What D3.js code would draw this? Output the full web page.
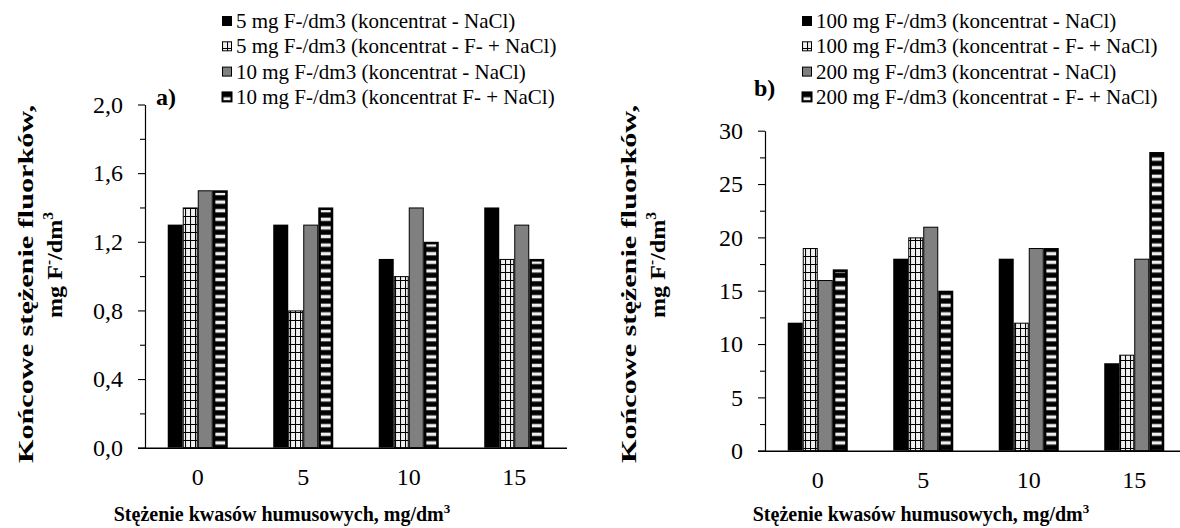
<!DOCTYPE html>
<html>
<head>
<meta charset="utf-8">
<script src="https://cdn.jsdelivr.net/npm/d3@7"></script>
<style>
html,body{margin:0;padding:0;background:#fff;}
svg{display:block;}
text{font-family:"Liberation Serif","Times New Roman",serif;fill:#000;}
</style>
</head>
<body>
<svg id="chart" width="1180" height="528"></svg>
<script>
// ---------- DATA ----------
const categories = ["0", "5", "10", "15"];

const seriesNamesA = [
  "5 mg F-/dm3 (koncentrat - NaCl)",
  "5 mg F-/dm3 (koncentrat - F- + NaCl)",
  "10 mg F-/dm3 (koncentrat - NaCl)",
  "10 mg F-/dm3 (koncentrat F- + NaCl)"
];
const a5NaCl   = [1.3, 1.3, 1.1, 1.4];
const a5FNaCl  = [1.4, 0.8, 1.0, 1.1];
const a10NaCl  = [1.5, 1.3, 1.4, 1.3];
const a10FNaCl = [1.5, 1.4, 1.2, 1.1];

const seriesNamesB = [
  "100 mg F-/dm3 (koncentrat - NaCl)",
  "100 mg F-/dm3 (koncentrat - F- + NaCl)",
  "200 mg F-/dm3 (koncentrat - NaCl)",
  "200 mg F-/dm3 (koncentrat - F- + NaCl)"
];
const b100NaCl  = [12, 18, 18, 8.2];
const b100FNaCl = [19, 20, 12, 9];
const b200NaCl  = [16, 21, 19, 18];
const b200FNaCl = [17, 15, 19, 28];

const yTicksA = [0, 0.4, 0.8, 1.2, 1.6, 2.0];
const yTickLabelsA = ["0,0", "0,4", "0,8", "1,2", "1,6", "2,0"];
const yMinorA = [0.2, 0.6, 1.0, 1.4, 1.8];
const yTicksB = [0, 5, 10, 15, 20, 25, 30];
const yTickLabelsB = ["0", "5", "10", "15", "20", "25", "30"];
const yMinorB = [2.5, 7.5, 12.5, 17.5, 22.5, 27.5];

const xTitle = "Stężenie kwasów humusowych, mg/dm";
const yTitle1 = "Końcowe stężenie fluorków,";

// ---------- DRAW ----------
const svg = d3.select("#chart");
const defs = svg.append("defs");

// checkered pattern
const chk = defs.append("pattern").attr("id", "chk")
  .attr("patternUnits", "userSpaceOnUse").attr("width", 5).attr("height", 8);
chk.append("rect").attr("width", 5).attr("height", 8).attr("fill", "#f0f0f0");
chk.append("path").attr("d", "M0.5,0V8M0,0.5H5").attr("stroke", "#000").attr("stroke-width", 1.1);

// horizontal stripe pattern
const str = defs.append("pattern").attr("id", "str")
  .attr("patternUnits", "userSpaceOnUse").attr("width", 10).attr("height", 8.6);
str.append("rect").attr("width", 10).attr("height", 8.6).attr("fill", "#000");
str.append("rect").attr("y", 2.6).attr("width", 10).attr("height", 3.4).attr("fill", "#efefef");

const fills = ["#000", "url(#chk)", "#808080", "url(#str)"];
const strokes = [0, 1, 1, 2.6];

function drawPanel(opt) {
  const g = svg.append("g");
  const x = d3.scaleBand().domain(categories).range(opt.xRange)
    .paddingInner(0.431).paddingOuter(0.2155);
  const xs = d3.scaleBand().domain(d3.range(opt.series.length)).range([0, x.bandwidth()]);
  const y = d3.scaleLinear().domain(opt.yDomain).range(opt.yRange);

  // bars
  opt.series.forEach((vals, si) => {
    g.append("g").selectAll("rect").data(vals).join("rect")
      .attr("x", (d, i) => x(categories[i]) + xs(si) + strokes[si] / 2)
      .attr("width", xs.bandwidth() - strokes[si])
      .attr("y", d => y(d) + strokes[si] / 2)
      .attr("height", d => Math.max(0, y(0) - y(d) - strokes[si] / 2))
      .attr("fill", fills[si])
      .attr("stroke", strokes[si] ? "#000" : "none")
      .attr("stroke-width", strokes[si]);
  });

  // y axis
  const yAxis = d3.axisLeft(y).tickValues(opt.yTicks).tickSize(7).tickSizeOuter(0)
    .tickPadding(15).tickFormat((d, i) => opt.yTickLabels[i]);
  const ya = g.append("g").attr("transform", `translate(${opt.xRange[0]},0)`).call(yAxis);
  ya.select(".domain").attr("stroke", "#000").attr("stroke-width", 1.2);
  ya.selectAll(".tick line").attr("stroke", "#000").attr("stroke-width", 1.1);
  ya.selectAll(".tick text").style("font-family", '"Liberation Serif", serif')
    .style("font-size", "24px").attr("fill", "#000");
  const yMinor = d3.axisLeft(y).tickValues(opt.yMinor).tickSize(5).tickSizeOuter(0).tickFormat("");
  const ym = g.append("g").attr("transform", `translate(${opt.xRange[0]},0)`).call(yMinor);
  ym.select(".domain").remove();
  ym.selectAll(".tick line").attr("stroke", "#000").attr("stroke-width", 1.1);

  // x axis
  const xAxis = d3.axisBottom(x).tickSize(0).tickSizeOuter(0).tickPadding(20);
  const xa = g.append("g").attr("transform", `translate(0,${y(0)})`).call(xAxis);
  xa.select(".domain").attr("stroke", "#000").attr("stroke-width", 1.4)
    .attr("d", `M${opt.xRange[0] - 7},0.5H${opt.xRange[1]}`);
  xa.selectAll(".tick text").style("font-family", '"Liberation Serif", serif')
    .style("font-size", "24px").attr("fill", "#000");

  // x title
  const xt = g.append("text").attr("x", opt.xTitleX).attr("y", 521)
    .attr("text-anchor", "middle").style("font-size", "20px").style("font-weight", "bold");
  xt.append("tspan").text(xTitle);
  xt.append("tspan").attr("dy", -8).style("font-size", "13px").text("3");

  // y title (two lines, rotated)
  const yt = g.append("g").attr("transform", `translate(${opt.yTitleX},0) rotate(-90)`);
  yt.append("text").attr("text-anchor", "middle").attr("x", -284).attr("y", 0)
    .attr("textLength", 358).attr("lengthAdjust", "spacingAndGlyphs")
    .style("font-size", "22px").style("font-weight", "bold").text(yTitle1);
  const l2 = yt.append("text").attr("x", -318).attr("y", 29)
    .style("font-size", "22px").style("font-weight", "bold")
    .attr("textLength", 106).attr("lengthAdjust", "spacingAndGlyphs");
  l2.append("tspan").text("mg F");
  l2.append("tspan").attr("dy", -9).style("font-size", "14px").text("-");
  l2.append("tspan").attr("dy", 9).text("/dm");
  l2.append("tspan").attr("dy", -9).style("font-size", "14px").text("3");

  // panel label
  g.append("text").attr("x", opt.labelX).attr("y", opt.labelY)
    .style("font-size", "24px").style("font-weight", "bold").text(opt.label);

  // legend
  const lg = g.append("g").attr("transform", `translate(${opt.legendX},0)`);
  opt.names.forEach((name, i) => {
    const cy = 21 + i * 25.3;
    lg.append("rect").attr("x", 0.5).attr("y", cy - 4.5).attr("width", 9).attr("height", 9)
      .attr("fill", fills[i]).attr("stroke", "#000").attr("stroke-width", i === 3 ? 2 : 1);
    lg.append("text").attr("x", 14).attr("y", cy + 7).style("font-size", "21px").text(name);
  });
}

drawPanel({
  series: [a5NaCl, a5FNaCl, a10NaCl, a10FNaCl],
  names: seriesNamesA,
  xRange: [145, 567], yRange: [447.7, 104.5], yDomain: [0, 2],
  yTicks: yTicksA, yTickLabels: yTickLabelsA, yMinor: yMinorA,
  xTitleX: 282, yTitleX: 33,
  label: "a)", labelX: 156, labelY: 105, legendX: 222
});
drawPanel({
  series: [b100NaCl, b100FNaCl, b200NaCl, b200FNaCl],
  names: seriesNamesB,
  xRange: [765, 1187], yRange: [450.7, 130.7], yDomain: [0, 30],
  yTicks: yTicksB, yTickLabels: yTickLabelsB, yMinor: yMinorB,
  xTitleX: 921, yTitleX: 636,
  label: "b)", labelX: 754, labelY: 96, legendX: 802
});
</script>
</body>
</html>
